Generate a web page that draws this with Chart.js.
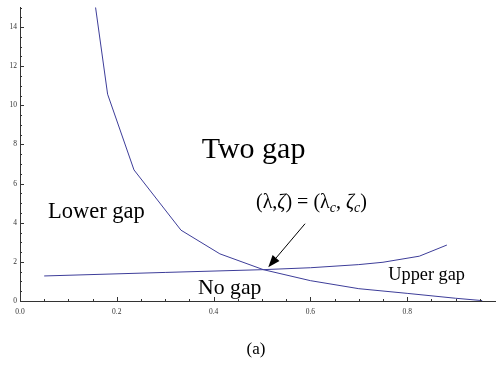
<!DOCTYPE html>
<html>
<head>
<meta charset="utf-8">
<script src="https://cdn.jsdelivr.net/npm/chart.js@4/dist/chart.umd.min.js"></script>
<style>
  html, body { margin: 0; padding: 0; background: #fff; }
  #wrap { width: 496px; height: 371px; }
</style>
</head>
<body>
<div id="wrap"><canvas id="phase" width="496" height="371"></canvas></div>
<script>
// boundary curves
const lowerX = [0.15, 0.181, 0.2355, 0.3326, 0.413, 0.503, 0.6, 0.7, 0.8, 0.9, 0.955];
const lowerY = [16.1, 10.57, 6.70, 3.62, 2.41, 1.60, 1.04, 0.63, 0.39, 0.14, 0.02];
const upperX = [0.05, 0.3, 0.5, 0.6, 0.7, 0.75, 0.825, 0.882];
const upperY = [1.28, 1.46, 1.60, 1.70, 1.86, 1.98, 2.29, 2.86];

// axis ticks
const xTicks = [0, 0.2, 0.4, 0.6, 0.8];
const xTickLabels = ["0.0", "0.2", "0.4", "0.6", "0.8"];
const yTicks = [0, 2, 4, 6, 8, 10, 12, 14];

const LINE = "#3d3d99";
const SERIF = "'Liberation Serif', 'Times New Roman', serif";

// ── inward Mathematica-style ticks ──────────────────────────────
const inwardTicks = {
  id: "inwardTicks",
  afterDraw(chart) {
    const { ctx, scales: { x, y } } = chart;
    ctx.save();
    ctx.strokeStyle = "#333";
    ctx.lineWidth = 1;
    ctx.beginPath();
    for (let i = 1; i * 0.05 <= x.max; i++) {
      const major = i % 4 === 0;
      const px = Math.round(x.getPixelForValue(i * 0.05)) + 0.5;
      ctx.moveTo(px, y.bottom);
      ctx.lineTo(px, y.bottom - (major ? 4 : 2));
    }
    for (let i = 1; i * 0.5 <= y.max; i++) {
      const major = i % 4 === 0;
      const py = Math.round(y.getPixelForValue(i * 0.5)) + 0.5;
      ctx.moveTo(x.left, py);
      ctx.lineTo(x.left + (major ? 4 : 2), py);
    }
    ctx.stroke();
    ctx.restore();
  }
};

// ── region labels, arrow and caption ───────────────────────────
const labels = {
  id: "labels",
  afterDraw(chart) {
    const { ctx, scales: { x, y } } = chart;
    const at = (vx, vy) => [x.getPixelForValue(vx), y.getPixelForValue(vy)];
    ctx.save();
    ctx.fillStyle = "#000";
    ctx.textBaseline = "alphabetic";
    ctx.textAlign = "left";

    const put = (txt, vx, vy, size, style) => {
      const [px, py] = at(vx, vy);
      ctx.font = (style || "") + " " + size + "px " + SERIF;
      ctx.fillText(txt, px, py);
    };
    put("Two gap", 0.3754, 7.29, 30);
    put("Lower gap", 0.0579, 4.26, 22.5);
    put("No gap", 0.368, 0.35, 21.7);
    put("Upper gap", 0.761, 1.06, 18.3);

    // (λ,ζ) = (λc, ζc)
    let [px, py] = at(0.4876, 4.73);
    const runs = [
      ["(λ,", 20, "", 0],
      ["ζ", 20, "italic", 0],
      [") = (λ", 20, "", 0],
      ["c", 14, "italic", 4],
      [", ", 20, "", 0],
      ["ζ", 20, "italic", 0],
      ["c", 14, "italic", 4],
      [")", 20, "", 0]
    ];
    for (const [t, s, st, dy] of runs) {
      ctx.font = st + " " + s + "px " + SERIF;
      ctx.fillText(t, px, py + dy);
      px += ctx.measureText(t).width;
    }

    // arrow to the crossing point
    const [ax, ay] = at(0.589, 3.95);
    const [bx, by] = at(0.513, 1.73);
    const ang = Math.atan2(by - ay, bx - ax);
    const hl = 12, hw = 4.5;
    const baseX = bx - hl * Math.cos(ang), baseY = by - hl * Math.sin(ang);
    ctx.strokeStyle = "#000";
    ctx.lineWidth = 1;
    ctx.beginPath();
    ctx.moveTo(ax, ay);
    ctx.lineTo(baseX, baseY);
    ctx.stroke();
    ctx.beginPath();
    ctx.moveTo(bx, by);
    ctx.lineTo(baseX + hw * Math.sin(ang), baseY - hw * Math.cos(ang));
    ctx.lineTo(baseX - hw * Math.sin(ang), baseY + hw * Math.cos(ang));
    ctx.closePath();
    ctx.fill();

    // caption
    ctx.font = "17px " + SERIF;
    ctx.textAlign = "center";
    ctx.textBaseline = "middle";
    ctx.fillText("(a)", 256, 350);
    ctx.restore();
  }
};

const toPoints = (xs, ys) => xs.map((v, i) => ({ x: v, y: ys[i] }));

new Chart(document.getElementById("phase"), {
  type: "scatter",
  data: {
    datasets: [
      {
        data: toPoints(lowerX, lowerY),
        showLine: true,
        borderColor: LINE,
        borderWidth: 1,
        pointRadius: 0,
        tension: 0
      },
      {
        data: toPoints(upperX, upperY),
        showLine: true,
        borderColor: LINE,
        borderWidth: 1,
        pointRadius: 0,
        tension: 0
      }
    ]
  },
  options: {
    responsive: false,
    animation: false,
    layout: { padding: { top: 4, right: 0, left: 0, bottom: 0 } },
    plugins: { legend: { display: false }, tooltip: { enabled: false } },
    scales: {
      x: {
        type: "linear",
        min: 0,
        max: 0.9835,
        afterBuildTicks: s => { s.ticks = xTicks.map(v => ({ value: v })); },
        afterFit: s => { s.height = 70; },
        grid: { display: false, drawTicks: false },
        border: { display: true, color: "#333", width: 1 },
        ticks: {
          padding: 7,
          color: "#333",
          font: { family: SERIF, size: 7.5 },
          callback: v => xTickLabels[xTicks.indexOf(v)] ?? ""
        }
      },
      y: {
        type: "linear",
        min: 0,
        max: 15,
        afterBuildTicks: s => { s.ticks = yTicks.map(v => ({ value: v })); },
        afterFit: s => { s.width = 20; },
        grid: { display: false, drawTicks: false },
        border: { display: true, color: "#333", width: 1 },
        ticks: {
          padding: 3,
          color: "#333",
          font: { family: SERIF, size: 7.5 }
        }
      }
    }
  },
  plugins: [inwardTicks, labels]
});
</script>
</body>
</html>
